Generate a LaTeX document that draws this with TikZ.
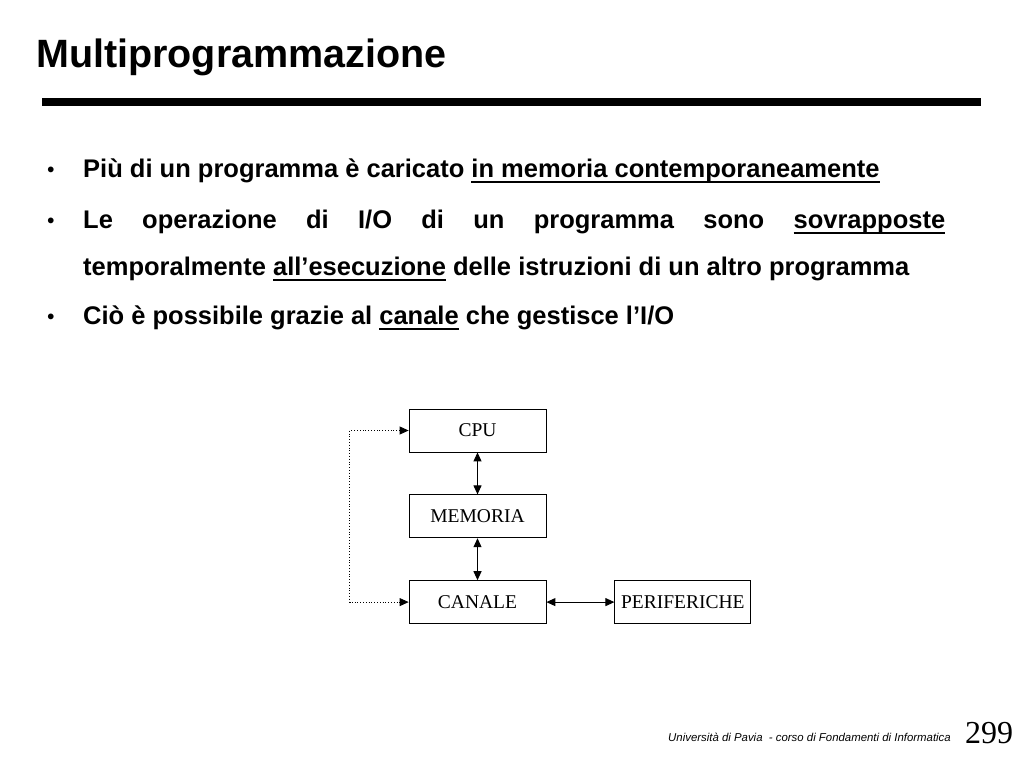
\documentclass[tikz,border=0pt]{standalone}
\usepackage{fontspec}
\setmainfont{Liberation Serif}
\setsansfont{Liberation Sans}
\usepackage{tikz}
\usetikzlibrary{positioning,arrows.meta}
\newcommand{\sott}[1]{\setbox0\hbox{#1}\rlap{\rule[-5.5pt]{\wd0}{1.7pt}}\box0\relax}
\tikzset{
  box/.style={draw, line width=0.8pt, minimum width=137pt, minimum height=43pt,
              inner sep=0pt, font=\fontsize{19.5}{22}\selectfont},
  ar/.style={{Triangle[length=9pt,width=8pt]}-{Triangle[length=9pt,width=8pt]}, line width=1pt},
  dotar/.style={ar, line width=0.8pt, dotted},
  bul/.style={anchor=base west, inner sep=0pt, font=\sffamily\bfseries\fontsize{25.5}{30}\selectfont},
  pt/.style={anchor=base, inner sep=0pt, font=\sffamily\bfseries\fontsize{20}{24}\selectfont}
}

\begin{document}
\begin{tikzpicture}[x=1pt, y=-1pt]
\useasboundingbox[fill=white] (0,0) rectangle (1024,768);
% titolo
\node[anchor=base west, inner sep=0pt, font=\sffamily\bfseries\fontsize{39.5}{46}\selectfont] (title) at (36,67) {Multiprogrammazione};
\draw[line width=8pt] (42,102) -- (981,102);
% punti
\node[pt] (p1) at (51,176) {•};
\node[pt] (p2) at (51,227) {•};
\node[pt] (p3) at (51,323) {•};
\node[bul] (b1) at (83,177) {Più di un programma è caricato \sott{in memoria contemporaneamente}};
\node[bul] (b2) at (83,228) {\makebox[862pt][s]{Le operazione di I/O di un programma sono \sott{sovrapposte}}};
\node[bul] (b2b) at (83,275) {temporalmente \sott{all’esecuzione} delle istruzioni di un altro programma};
\node[bul] (b3) at (83,324) {Ciò è possibile grazie al \sott{canale} che gestisce l’I/O};
% schema
\node[box] (cpu) at (477.5,430.5) {CPU};
\node[box, below=42pt of cpu] (mem) {MEMORIA};
\node[box, below=42pt of mem] (can) {CANALE};
\node[box, right=68pt of can, minimum width=136pt] (per) {PERIFERICHE};
\draw[ar] (cpu) -- (mem);
\draw[ar] (mem) -- (can);
\draw[ar] (can) -- (per);
\draw[dotar] (cpu.west) -- ++(-59,0) |- (can.west);
% piede
\node[anchor=base east, inner sep=0pt, font=\sffamily\itshape\fontsize{11.4}{13}\selectfont] (foot) at (951,741) {Università di Pavia\ \ - corso di Fondamenti di Informatica};
\node[anchor=base west, inner sep=0pt, font=\fontsize{32}{36}\selectfont] (num) at (965,743) {299};
\end{tikzpicture}
\end{document}
